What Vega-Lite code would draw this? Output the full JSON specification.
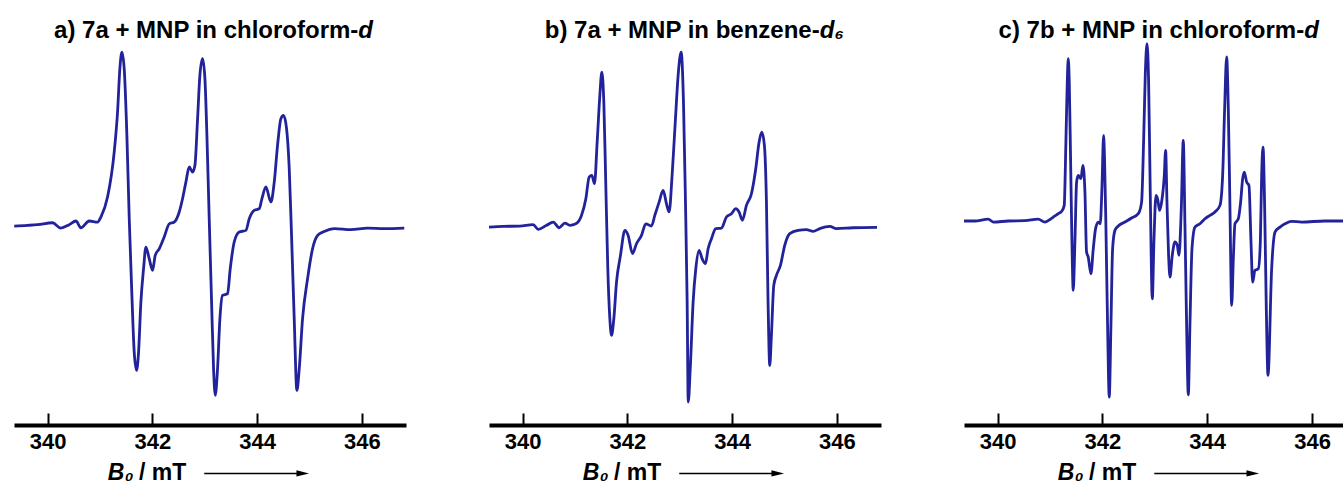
{
  "$schema": "https://vega.github.io/schema/vega-lite/v6.json",
  "background": "white",
  "padding": {"left": 14, "top": 19, "right": 0, "bottom": 0},
  "spacing": 83,
  "bounds": "flush",
  "config": {
    "view": {"stroke": null},
    "axisX": {
      "grid": false,
      "domainColor": "black",
      "domainWidth": 4,
      "tickColor": "black",
      "tickWidth": 2,
      "tickSize": -12,
      "labelFont": "Liberation Sans",
      "labelFontWeight": "bold",
      "labelFontSize": 22,
      "labelColor": "black",
      "labelPadding": 18
    }
  },
  "datasets": {
    "a": [
      {"B":339.364,"I":0},{"B":339.618,"I":0.004},{"B":339.809,"I":0.008},{"B":340.095,"I":0.019},{"B":340.254,"I":-0.012},{"B":340.413,"I":0.008},{"B":340.541,"I":0.029},{"B":340.636,"I":-0.010},{"B":340.795,"I":0.029},{"B":340.954,"I":0.023},{"B":341.018,"I":0.052},{"B":341.145,"I":0.167},{"B":341.272,"I":0.426},{"B":341.336,"I":0.657},{"B":341.380,"I":0.906},{"B":341.419,"I":1.002},{"B":341.463,"I":0.906},{"B":341.514,"I":0.522},{"B":341.559,"I":0.042},{"B":341.603,"I":-0.342},{"B":341.654,"I":-0.726},{"B":341.698,"I":-0.831},{"B":341.737,"I":-0.726},{"B":341.781,"I":-0.438},{"B":341.832,"I":-0.246},{"B":341.877,"I":-0.121},{"B":341.940,"I":-0.188},{"B":342.004,"I":-0.255},{"B":342.055,"I":-0.169},{"B":342.131,"I":-0.131},{"B":342.226,"I":-0.063},{"B":342.322,"I":0.013},{"B":342.417,"I":0.023},{"B":342.513,"I":0.081},{"B":342.576,"I":0.157},{"B":342.640,"I":0.253},{"B":342.704,"I":0.340},{"B":342.767,"I":0.311},{"B":342.812,"I":0.349},{"B":342.863,"I":0.618},{"B":342.907,"I":0.868},{"B":342.958,"I":0.964},{"B":343.003,"I":0.849},{"B":343.041,"I":0.522},{"B":343.085,"I":0.042},{"B":343.130,"I":-0.438},{"B":343.168,"I":-0.822},{"B":343.200,"I":-0.975},{"B":343.244,"I":-0.822},{"B":343.289,"I":-0.534},{"B":343.340,"I":-0.399},{"B":343.435,"I":-0.390},{"B":343.486,"I":-0.246},{"B":343.562,"I":-0.092},{"B":343.658,"I":-0.035},{"B":343.785,"I":-0.025},{"B":343.849,"I":0.042},{"B":343.944,"I":0.090},{"B":344.040,"I":0.100},{"B":344.090,"I":0.157},{"B":344.167,"I":0.225},{"B":344.262,"I":0.138},{"B":344.326,"I":0.253},{"B":344.389,"I":0.465},{"B":344.453,"I":0.618},{"B":344.504,"I":0.637},{"B":344.561,"I":0.561},{"B":344.612,"I":0.330},{"B":344.656,"I":-0.054},{"B":344.707,"I":-0.534},{"B":344.758,"I":-0.947},{"B":344.803,"I":-0.822},{"B":344.866,"I":-0.534},{"B":344.962,"I":-0.303},{"B":345.057,"I":-0.131},{"B":345.153,"I":-0.054},{"B":345.280,"I":-0.031},{"B":345.471,"I":-0.015},{"B":345.789,"I":-0.021},{"B":346.107,"I":-0.012},{"B":346.425,"I":-0.015},{"B":346.807,"I":-0.012}
    ],
    "b": [
      {"B":339.345,"I":-0.006},{"B":339.631,"I":-0.002},{"B":339.949,"I":0},{"B":340.203,"I":0.008},{"B":340.299,"I":-0.019},{"B":340.458,"I":0.004},{"B":340.585,"I":0.023},{"B":340.699,"I":-0.010},{"B":340.807,"I":0.017},{"B":340.903,"I":0.004},{"B":341.017,"I":0.013},{"B":341.125,"I":0.061},{"B":341.208,"I":0.157},{"B":341.271,"I":0.282},{"B":341.322,"I":0.292},{"B":341.373,"I":0.244},{"B":341.424,"I":0.484},{"B":341.475,"I":0.753},{"B":341.513,"I":0.887},{"B":341.551,"I":0.714},{"B":341.589,"I":0.234},{"B":341.627,"I":-0.246},{"B":341.666,"I":-0.534},{"B":341.697,"I":-0.630},{"B":341.742,"I":-0.534},{"B":341.793,"I":-0.323},{"B":341.869,"I":-0.169},{"B":341.952,"I":-0.025},{"B":342.015,"I":-0.054},{"B":342.098,"I":-0.159},{"B":342.174,"I":-0.102},{"B":342.270,"I":-0.054},{"B":342.352,"I":0.013},{"B":342.460,"I":0},{"B":342.524,"I":0.061},{"B":342.606,"I":0.138},{"B":342.683,"I":0.205},{"B":342.746,"I":0.129},{"B":342.797,"I":0.081},{"B":342.854,"I":0.292},{"B":342.918,"I":0.618},{"B":342.969,"I":0.868},{"B":343.026,"I":1.002},{"B":343.071,"I":0.714},{"B":343.109,"I":0.138},{"B":343.141,"I":-0.438},{"B":343.162,"I":-1.014},{"B":343.200,"I":-0.822},{"B":343.255,"I":-0.438},{"B":343.306,"I":-0.246},{"B":343.369,"I":-0.140},{"B":343.427,"I":-0.188},{"B":343.490,"I":-0.217},{"B":343.541,"I":-0.131},{"B":343.605,"I":-0.073},{"B":343.688,"I":-0.015},{"B":343.795,"I":-0.012},{"B":343.891,"I":0.052},{"B":343.986,"I":0.071},{"B":344.069,"I":0.100},{"B":344.132,"I":0.081},{"B":344.196,"I":0.033},{"B":344.272,"I":0.119},{"B":344.368,"I":0.186},{"B":344.450,"I":0.330},{"B":344.514,"I":0.484},{"B":344.565,"I":0.541},{"B":344.615,"I":0.465},{"B":344.654,"I":0.138},{"B":344.685,"I":-0.438},{"B":344.717,"I":-0.803},{"B":344.749,"I":-0.630},{"B":344.794,"I":-0.342},{"B":344.845,"I":-0.284},{"B":344.921,"I":-0.227},{"B":345.003,"I":-0.111},{"B":345.099,"I":-0.044},{"B":345.258,"I":-0.025},{"B":345.417,"I":-0.021},{"B":345.544,"I":-0.031},{"B":345.671,"I":-0.015},{"B":345.862,"I":-0.002},{"B":345.989,"I":-0.015},{"B":346.307,"I":-0.010},{"B":346.764,"I":-0.008}
    ],
    "c": [
      {"B":339.345,"I":0.029},{"B":339.567,"I":0.029},{"B":339.822,"I":0.040},{"B":339.917,"I":0.023},{"B":340.204,"I":0.029},{"B":340.522,"I":0.031},{"B":340.776,"I":0.040},{"B":340.903,"I":0.023},{"B":340.999,"I":0.038},{"B":341.094,"I":0.058},{"B":341.158,"I":0.071},{"B":341.234,"I":0.090},{"B":341.272,"I":0.119},{"B":341.304,"I":0.484},{"B":341.330,"I":0.829},{"B":341.349,"I":0.964},{"B":341.368,"I":0.829},{"B":341.393,"I":0.388},{"B":341.419,"I":-0.092},{"B":341.444,"I":-0.371},{"B":341.476,"I":-0.092},{"B":341.508,"I":0.253},{"B":341.539,"I":0.292},{"B":341.590,"I":0.273},{"B":341.628,"I":0.349},{"B":341.667,"I":0.196},{"B":341.698,"I":-0.150},{"B":341.730,"I":-0.179},{"B":341.781,"I":-0.275},{"B":341.826,"I":-0.131},{"B":341.870,"I":-0.015},{"B":341.921,"I":0.023},{"B":341.959,"I":0.013},{"B":341.991,"I":0.215},{"B":342.023,"I":0.522},{"B":342.041,"I":0.388},{"B":342.067,"I":0.004},{"B":342.099,"I":-0.572},{"B":342.131,"I":-0.985},{"B":342.163,"I":-0.572},{"B":342.195,"I":-0.131},{"B":342.239,"I":-0.025},{"B":342.303,"I":0},{"B":342.430,"I":0.023},{"B":342.557,"I":0.046},{"B":342.685,"I":0.071},{"B":342.748,"I":0.138},{"B":342.786,"I":0.484},{"B":342.818,"I":0.868},{"B":342.850,"I":1.050},{"B":342.882,"I":0.829},{"B":342.913,"I":0.196},{"B":342.952,"I":-0.419},{"B":342.983,"I":-0.092},{"B":343.022,"I":0.177},{"B":343.053,"I":0.157},{"B":343.092,"I":0.090},{"B":343.130,"I":0.138},{"B":343.181,"I":0.292},{"B":343.206,"I":0.436},{"B":343.232,"I":0.138},{"B":343.263,"I":-0.169},{"B":343.289,"I":-0.294},{"B":343.333,"I":-0.169},{"B":343.384,"I":-0.092},{"B":343.429,"I":-0.111},{"B":343.461,"I":-0.169},{"B":343.505,"I":0.100},{"B":343.543,"I":0.493},{"B":343.575,"I":0.004},{"B":343.607,"I":-0.572},{"B":343.639,"I":-0.972},{"B":343.670,"I":-0.572},{"B":343.709,"I":-0.131},{"B":343.766,"I":-0.006},{"B":343.861,"I":0.013},{"B":343.957,"I":0.042},{"B":344.052,"I":0.061},{"B":344.148,"I":0.081},{"B":344.243,"I":0.119},{"B":344.294,"I":0.292},{"B":344.332,"I":0.676},{"B":344.370,"I":0.974},{"B":344.402,"I":0.676},{"B":344.434,"I":0.100},{"B":344.466,"I":-0.457},{"B":344.498,"I":-0.188},{"B":344.529,"I":0.013},{"B":344.593,"I":0.042},{"B":344.637,"I":0.138},{"B":344.676,"I":0.273},{"B":344.707,"I":0.311},{"B":344.752,"I":0.253},{"B":344.796,"I":0.234},{"B":344.835,"I":-0.092},{"B":344.866,"I":-0.323},{"B":344.911,"I":-0.255},{"B":344.975,"I":-0.246},{"B":345.013,"I":-0.092},{"B":345.038,"I":0.292},{"B":345.064,"I":0.455},{"B":345.096,"I":0.100},{"B":345.127,"I":-0.476},{"B":345.159,"I":-0.860},{"B":345.229,"I":-0.246},{"B":345.293,"I":-0.035},{"B":345.388,"I":-0.006},{"B":345.483,"I":0.013},{"B":345.611,"I":0.027},{"B":345.802,"I":0.023},{"B":346.247,"I":0.029},{"B":346.641,"I":0.029},{"B":346.850,"I":0.029}
    ]
  },
  "hconcat": [
    {
      "width": 392,
      "height": 383,
      "layer": [
        {
          "data": {"name": "a"},
          "mark": {"type": "line", "color": "#22229a", "strokeWidth": 2.8, "interpolate": "monotone", "clip": true},
          "encoding": {
            "x": {"field": "B", "type": "quantitative", "scale": {"domain": [339.36, 346.84], "nice": false, "zero": false}, "axis": {"values": [340, 342, 344, 346], "title": null, "format": "d"}},
            "y": {"field": "I", "type": "quantitative", "scale": {"domain": [-1.146, 1.06], "nice": false, "zero": false}, "axis": null}
          }
        },
        {
          "data": {"values": [{}]},
          "mark": {"type": "text", "align": "right", "baseline": "alphabetic", "font": "Liberation Sans", "fontWeight": "bold", "fontSize": 24, "color": "black", "text": "a) 7a + MNP in chloroform-"},
          "encoding": {"x": {"datum": 345.93, "type": "quantitative"}, "y": {"datum": 1.083, "type": "quantitative"}}
        },
        {
          "data": {"values": [{}]},
          "mark": {"type": "text", "align": "left", "baseline": "alphabetic", "font": "Liberation Sans", "fontWeight": "bold", "fontStyle": "italic", "fontSize": 24, "color": "black", "text": "d"},
          "encoding": {"x": {"datum": 345.93, "type": "quantitative"}, "y": {"datum": 1.083, "type": "quantitative"}}
        },
        {
          "data": {"values": [{}]},
          "mark": {"type": "text", "align": "left", "baseline": "alphabetic", "font": "Liberation Sans", "fontWeight": "bold", "fontStyle": "italic", "fontSize": 23, "color": "black", "text": "B₀"},
          "encoding": {"x": {"datum": 341.15, "type": "quantitative"}, "y": {"datum": -1.46, "type": "quantitative"}}
        },
        {
          "data": {"values": [{}]},
          "mark": {"type": "text", "align": "left", "baseline": "alphabetic", "font": "Liberation Sans", "fontWeight": "bold", "fontSize": 23, "color": "black", "text": "/ mT"},
          "encoding": {"x": {"datum": 341.745, "type": "quantitative"}, "y": {"datum": -1.46, "type": "quantitative"}}
        },
        {
          "data": {"values": [{}]},
          "mark": {"type": "rule", "color": "black", "strokeWidth": 1.5},
          "encoding": {"x": {"datum": 342.99, "type": "quantitative"}, "x2": {"datum": 344.85}, "y": {"datum": -1.425, "type": "quantitative"}}
        },
        {
          "data": {"values": [{}]},
          "mark": {"type": "point", "shape": "M-1,-0.5L1,0L-1,0.5Z", "filled": true, "color": "black", "opacity": 1, "size": 160},
          "encoding": {"x": {"datum": 344.87, "type": "quantitative"}, "y": {"datum": -1.425, "type": "quantitative"}}
        }
      ]
    },
    {
      "width": 392,
      "height": 383,
      "layer": [
        {
          "data": {"name": "b"},
          "mark": {"type": "line", "color": "#22229a", "strokeWidth": 2.8, "interpolate": "monotone", "clip": true},
          "encoding": {
            "x": {"field": "B", "type": "quantitative", "scale": {"domain": [339.36, 346.84], "nice": false, "zero": false}, "axis": {"values": [340, 342, 344, 346], "title": null, "format": "d"}},
            "y": {"field": "I", "type": "quantitative", "scale": {"domain": [-1.146, 1.06], "nice": false, "zero": false}, "axis": null}
          }
        },
        {
          "data": {"values": [{}]},
          "mark": {"type": "text", "align": "right", "baseline": "alphabetic", "font": "Liberation Sans", "fontWeight": "bold", "fontSize": 24, "color": "black", "text": "b) 7a + MNP in benzene-"},
          "encoding": {"x": {"datum": 345.67, "type": "quantitative"}, "y": {"datum": 1.083, "type": "quantitative"}}
        },
        {
          "data": {"values": [{}]},
          "mark": {"type": "text", "align": "left", "baseline": "alphabetic", "font": "Liberation Sans", "fontWeight": "bold", "fontStyle": "italic", "fontSize": 24, "color": "black", "text": "d₆"},
          "encoding": {"x": {"datum": 345.67, "type": "quantitative"}, "y": {"datum": 1.083, "type": "quantitative"}}
        },
        {
          "data": {"values": [{}]},
          "mark": {"type": "text", "align": "left", "baseline": "alphabetic", "font": "Liberation Sans", "fontWeight": "bold", "fontStyle": "italic", "fontSize": 23, "color": "black", "text": "B₀"},
          "encoding": {"x": {"datum": 341.15, "type": "quantitative"}, "y": {"datum": -1.46, "type": "quantitative"}}
        },
        {
          "data": {"values": [{}]},
          "mark": {"type": "text", "align": "left", "baseline": "alphabetic", "font": "Liberation Sans", "fontWeight": "bold", "fontSize": 23, "color": "black", "text": "/ mT"},
          "encoding": {"x": {"datum": 341.745, "type": "quantitative"}, "y": {"datum": -1.46, "type": "quantitative"}}
        },
        {
          "data": {"values": [{}]},
          "mark": {"type": "rule", "color": "black", "strokeWidth": 1.5},
          "encoding": {"x": {"datum": 342.99, "type": "quantitative"}, "x2": {"datum": 344.85}, "y": {"datum": -1.425, "type": "quantitative"}}
        },
        {
          "data": {"values": [{}]},
          "mark": {"type": "point", "shape": "M-1,-0.5L1,0L-1,0.5Z", "filled": true, "color": "black", "opacity": 1, "size": 160},
          "encoding": {"x": {"datum": 344.87, "type": "quantitative"}, "y": {"datum": -1.425, "type": "quantitative"}}
        }
      ]
    },
    {
      "width": 379,
      "height": 383,
      "layer": [
        {
          "data": {"name": "c"},
          "mark": {"type": "line", "color": "#22229a", "strokeWidth": 2.8, "interpolate": "monotone", "clip": true},
          "encoding": {
            "x": {"field": "B", "type": "quantitative", "scale": {"domain": [339.36, 346.59], "nice": false, "zero": false}, "axis": {"values": [340, 342, 344, 346], "title": null, "format": "d"}},
            "y": {"field": "I", "type": "quantitative", "scale": {"domain": [-1.146, 1.06], "nice": false, "zero": false}, "axis": null}
          }
        },
        {
          "data": {"values": [{}]},
          "mark": {"type": "text", "align": "right", "baseline": "alphabetic", "font": "Liberation Sans", "fontWeight": "bold", "fontSize": 24, "color": "black", "text": "c) 7b + MNP in chloroform-"},
          "encoding": {"x": {"datum": 345.85, "type": "quantitative"}, "y": {"datum": 1.083, "type": "quantitative"}}
        },
        {
          "data": {"values": [{}]},
          "mark": {"type": "text", "align": "left", "baseline": "alphabetic", "font": "Liberation Sans", "fontWeight": "bold", "fontStyle": "italic", "fontSize": 24, "color": "black", "text": "d"},
          "encoding": {"x": {"datum": 345.85, "type": "quantitative"}, "y": {"datum": 1.083, "type": "quantitative"}}
        },
        {
          "data": {"values": [{}]},
          "mark": {"type": "text", "align": "left", "baseline": "alphabetic", "font": "Liberation Sans", "fontWeight": "bold", "fontStyle": "italic", "fontSize": 23, "color": "black", "text": "B₀"},
          "encoding": {"x": {"datum": 341.15, "type": "quantitative"}, "y": {"datum": -1.46, "type": "quantitative"}}
        },
        {
          "data": {"values": [{}]},
          "mark": {"type": "text", "align": "left", "baseline": "alphabetic", "font": "Liberation Sans", "fontWeight": "bold", "fontSize": 23, "color": "black", "text": "/ mT"},
          "encoding": {"x": {"datum": 341.745, "type": "quantitative"}, "y": {"datum": -1.46, "type": "quantitative"}}
        },
        {
          "data": {"values": [{}]},
          "mark": {"type": "rule", "color": "black", "strokeWidth": 1.5},
          "encoding": {"x": {"datum": 342.99, "type": "quantitative"}, "x2": {"datum": 344.85}, "y": {"datum": -1.425, "type": "quantitative"}}
        },
        {
          "data": {"values": [{}]},
          "mark": {"type": "point", "shape": "M-1,-0.5L1,0L-1,0.5Z", "filled": true, "color": "black", "opacity": 1, "size": 160},
          "encoding": {"x": {"datum": 344.87, "type": "quantitative"}, "y": {"datum": -1.425, "type": "quantitative"}}
        }
      ]
    }
  ]
}
